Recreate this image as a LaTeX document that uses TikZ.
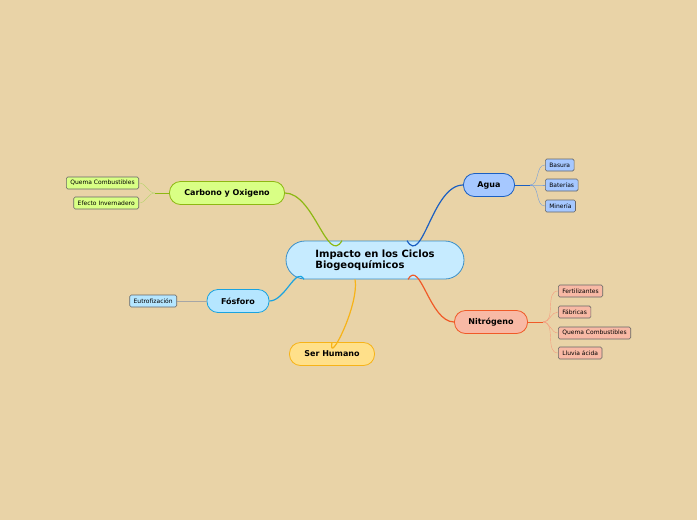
\documentclass[tikz,border=0pt]{standalone}
\usepackage{fontspec}
\setmainfont{DejaVu Sans}
\usetikzlibrary{positioning}
\definecolor{bg}{HTML}{E9D3A7}
\definecolor{mainf}{HTML}{C6EBFF}\definecolor{maind}{HTML}{3A8FC8}
\definecolor{aguaf}{HTML}{A6C8FF}\definecolor{aguad}{HTML}{1B5FC2}
\definecolor{nitf}{HTML}{F8B9A5}\definecolor{nitd}{HTML}{F05A28}
\definecolor{carf}{HTML}{D9FF85}\definecolor{card}{HTML}{8DB813}
\definecolor{fosf}{HTML}{B5E6FF}\definecolor{fosd}{HTML}{1AA3E0}
\definecolor{serf}{HTML}{FFE08A}\definecolor{serd}{HTML}{F7B318}
\tikzset{
  topic/.style={draw,rounded corners=11pt,line width=0.8pt,minimum height=23pt,inner xsep=6pt,font=\fontsize{8}{9}\selectfont\bfseries},
  leaf/.style={draw=black!60,rounded corners=1.5pt,line width=0.6pt,minimum height=12pt,inner xsep=4pt,inner ysep=1pt,font=\fontsize{6}{7}\selectfont},
}
\begin{document}
\begin{tikzpicture}[x=1pt,y=-1pt]
\fill[bg] (0,0) rectangle (697,520);
\useasboundingbox (0,0) rectangle (697,520);

\node[draw=maind,fill=mainf,rounded corners=19pt,line width=0.8pt,minimum width=178pt,minimum height=38pt,align=left,font=\fontsize{10}{11}\selectfont\bfseries] (main) at (375,260) {Impacto en los Ciclos\\Biogeoquímicos};

\node[topic,draw=aguad,fill=aguaf,minimum width=51pt] (agua) at (489,185) {Agua};
\node[topic,draw=nitd,fill=nitf,minimum width=73pt] (nitro) at (491,322) {Nitrógeno};
\node[topic,draw=card,fill=carf,minimum width=115pt] (carbono) at (227,193) {Carbono y Oxigeno};
\node[topic,draw=fosd,fill=fosf,minimum width=62pt] (fosforo) at (238,301) {Fósforo};
\node[topic,draw=serd,fill=serf,minimum width=85pt] (ser) at (332,354) {Ser Humano};

\draw[aguad,line width=1.2pt] (main.north)++(32,0) to[out=-60,in=180] (agua.west);
\draw[nitd,line width=1.2pt] (main.south)++(33,0) to[out=60,in=180] (nitro.west);
\draw[card,line width=1.2pt] (main.north)++(-33,0) to[out=-120,in=0] (carbono.east);
\draw[fosd,line width=1.2pt] (main.south)++(-71,0) to[out=120,in=0] (fosforo.east);
\draw[serd,line width=1.2pt] (main.south)++(-20,0) to[out=-80,in=-100] (ser.north);

% agua
\node[leaf,fill=aguaf,anchor=west] (basura) at (545,165) {Basura};
\node[leaf,fill=aguaf,anchor=west] (bateria) at (545,185) {Baterías};
\node[leaf,fill=aguaf,anchor=west] (mineria) at (545,206) {Minería};
\coordinate (fa) at (530,185);
\draw[aguad] (agua.east) -- (fa);
\foreach \n in {basura,bateria,mineria}
  \draw[aguad!60] (fa) to[out=0,in=180] (\n.west);

% nitrogeno
\node[leaf,fill=nitf,anchor=west] (fert) at (558,291) {Fertilizantes};
\node[leaf,fill=nitf,anchor=west] (fab) at (558,312) {Fábricas};
\node[leaf,fill=nitf,anchor=west] (quemaN) at (558,333) {Quema Combustibles};
\node[leaf,fill=nitf,anchor=west] (lluvia) at (558,353) {Lluvia ácida};
\coordinate (fn) at (543,322);
\draw[nitd] (nitro.east) -- (fn);
\foreach \n in {fert,fab,quemaN,lluvia}
  \draw[nitd!60] (fn) to[out=0,in=180] (\n.west);

% carbono
\node[leaf,fill=carf,anchor=east] (quemaC) at (139,183) {Quema Combustibles};
\node[leaf,fill=carf,anchor=east] (efecto) at (139,203) {Efecto Invernadero};
\coordinate (fc) at (155,193);
\draw[card] (carbono.west) -- (fc);
\foreach \n in {quemaC,efecto}
  \draw[card!60] (fc) to[out=180,in=0] (\n.east);

% fosforo
\node[leaf,fill=fosf,anchor=east] (eutro) at (177,301) {Eutrofización};
\draw[black!35] (fosforo.west) -- (eutro.east);
\end{tikzpicture}
\end{document}
